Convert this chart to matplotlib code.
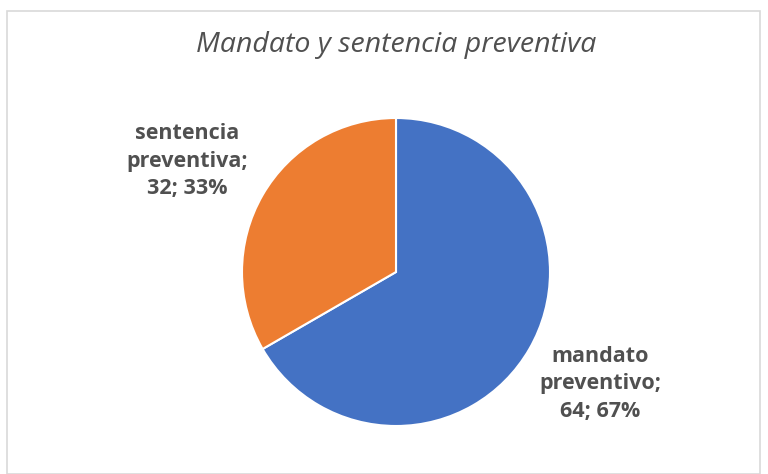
import matplotlib.pyplot as plt
from matplotlib.patches import Rectangle

labels = ['mandato\npreventivo', 'sentencia\npreventiva']
values = [64, 32]
colors = ['#4472C4', '#ED7D31']

W, H = 768, 474
fig = plt.figure(figsize=(W / 100, H / 100), dpi=100)
fig.patch.set_facecolor('white')

# chart border
fig.patches.append(Rectangle((7 / W, 0), (760 - 7) / W, (H - 11) / H,
                             transform=fig.transFigure, fill=False,
                             edgecolor='#d9d9d9', linewidth=1.2))

cx, cy, r = 396, 272, 154
ax = fig.add_axes([(cx - r) / W, (H - cy - r) / H, 2 * r / W, 2 * r / H])
ax.pie(values, colors=colors, startangle=90, counterclock=False, radius=1,
       wedgeprops=dict(edgecolor='white', linewidth=1.5))
ax.set_xlim(-1, 1)
ax.set_ylim(-1, 1)
ax.set_aspect('equal')
ax.axis('off')

fig.text(396 / W, 1 - 45 / H, 'Mandato y sentencia preventiva', ha='center', va='center',
         fontsize=20.5, style='italic', color='#505050', family='Open Sans')

total = sum(values)
pos = [(600, 384), (187, 161)]
for lab, v, (x, y) in zip(labels, values, pos):
    txt = f'{lab};\n{v}; {round(100 * v / total)}%'
    fig.text(x / W, 1 - y / H, txt, ha='center', va='center', fontsize=15.5,
             fontweight='bold', color='#505050', family='Open Sans', linespacing=1.38)

fig.savefig('out.png', dpi=100)
